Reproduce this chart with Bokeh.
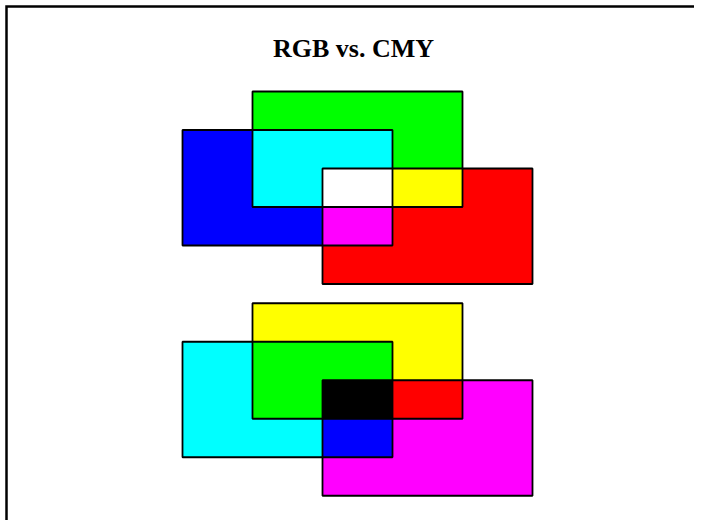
from itertools import combinations

from bokeh.embed import file_html
from bokeh.resources import INLINE
from bokeh.plotting import figure
from bokeh.models import Range1d, Label

# ---- data (grid units) ----
title_text = "RGB vs. CMY"

rgb_names = ["Blue", "Green", "Red"]
rgb_left = [0, 1, 2]
rgb_right = [3, 4, 5]
rgb_top = [1, 0, 2]
rgb_bottom = [4, 3, 5]
rgb_colors = [(0, 0, 255), (0, 255, 0), (255, 0, 0)]

cmy_names = ["Cyan", "Yellow", "Magenta"]
cmy_left = [0, 1, 2]
cmy_right = [3, 4, 5]
cmy_top = [6.5, 5.5, 7.5]
cmy_bottom = [9.5, 8.5, 10.5]
cmy_colors = [(0, 255, 255), (255, 255, 0), (255, 0, 255)]

# ---- figure ----
W, H = 694, 520
UX, UY = 70.0, 38.5          # pixels per grid unit
OX, OY = 182.0, 91.0         # pixel position of grid origin inside the figure

p = figure(width=W, height=H, output_backend="svg", toolbar_location=None,
           x_range=Range1d(-OX / UX, (W - OX) / UX),
           y_range=Range1d((H - OY) / UY, -OY / UY),
           min_border=0, background_fill_color="white",
           border_fill_color="white", outline_line_color=None)
p.axis.visible = False
p.grid.visible = False


def hexcol(c):
    return "#%02x%02x%02x" % c


def draw_group(left, right, top, bottom, colors, mix):
    n = len(left)
    # base fills
    p.quad(left=left, right=right, top=top, bottom=bottom,
           fill_color=[hexcol(c) for c in colors], line_color=None)
    # overlaps (pairs, then triple)
    for k in (2, 3):
        for combo in combinations(range(n), k):
            l = max(left[i] for i in combo)
            r = min(right[i] for i in combo)
            t = max(top[i] for i in combo)
            b = min(bottom[i] for i in combo)
            if l < r and t < b:
                col = tuple(mix(colors[i][ch] for i in combo) for ch in range(3))
                p.quad(left=[l], right=[r], top=[t], bottom=[b],
                       fill_color=hexcol(col), line_color=None)
    # outlines
    p.quad(left=left, right=right, top=top, bottom=bottom,
           fill_color=None, line_color="black", line_width=1.8)


draw_group(rgb_left, rgb_right, rgb_top, rgb_bottom, rgb_colors, max)
draw_group(cmy_left, cmy_right, cmy_top, cmy_bottom, cmy_colors, min)

# title
p.add_layout(Label(x=(min(rgb_left) + max(rgb_right)) / 2, y=-43 / UY, x_offset=-4,
                   text=title_text, text_align="center", text_baseline="alphabetic",
                   text_font="Liberation Serif", text_font_style="bold",
                   text_font_size="26px", text_color="black"))

# frame (left and top edges), placed a few pixels inside the canvas corner
xr, yr = p.x_range, p.y_range
fx = xr.start + 6 / UX
fy = yr.end + 6 / UY
p.line(x=[fx, fx, xr.end + 1], y=[yr.start + 1, fy, fy],
       line_color="black", line_width=2.5, line_join="miter")

open("out.html", "w").write(file_html(p, INLINE))
